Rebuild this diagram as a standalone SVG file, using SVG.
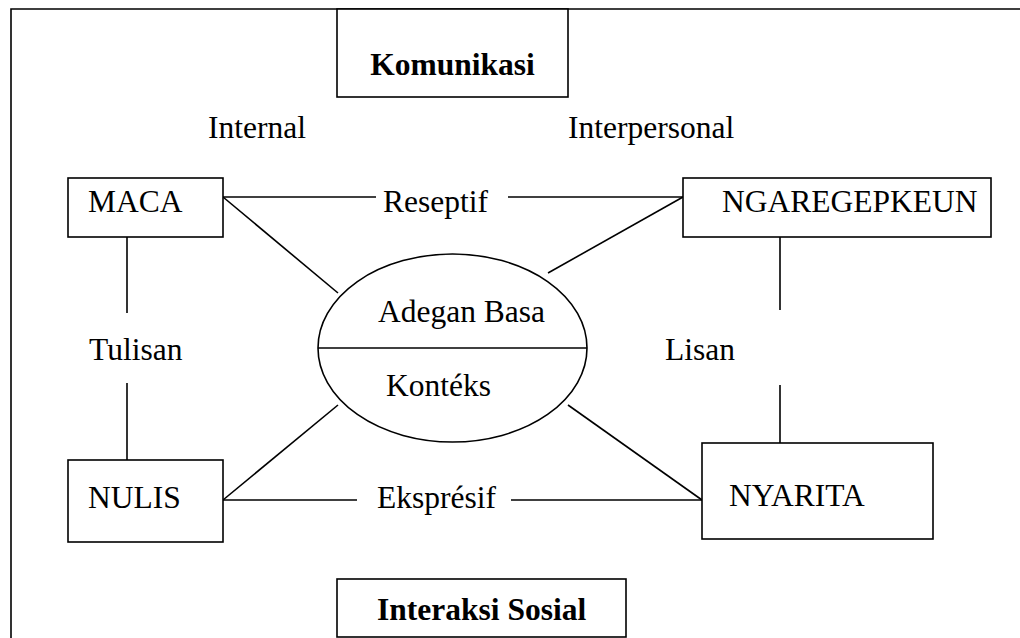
<svg xmlns="http://www.w3.org/2000/svg" width="1020" height="638" viewBox="0 0 1020 638">
<style>
.box{fill:#fff;stroke:#000;stroke-width:1.6}
.ln{stroke:#000;stroke-width:1.6;fill:none}
text{font-family:"Liberation Serif","Times New Roman",serif;font-size:31.5px;fill:#000}
.b{font-weight:bold}
</style>
<rect width="1020" height="638" fill="#fff"/>
<path class="ln" d="M11,640 V9 H1022"/>
<g id="connectors">
<line class="ln" x1="223" y1="197" x2="376" y2="197"/>
<line class="ln" x1="508" y1="197" x2="683" y2="197"/>
<line class="ln" x1="223" y1="197" x2="338" y2="293"/>
<line class="ln" x1="683" y1="197" x2="548" y2="273"/>
<line class="ln" x1="127" y1="237" x2="127" y2="313"/>
<line class="ln" x1="127" y1="383" x2="127" y2="460"/>
<line class="ln" x1="780" y1="237" x2="780" y2="310"/>
<line class="ln" x1="780" y1="385" x2="780" y2="443"/>
<line class="ln" x1="223" y1="500" x2="357" y2="500"/>
<line class="ln" x1="511" y1="500" x2="702" y2="500"/>
<line class="ln" x1="223" y1="500" x2="338" y2="405"/>
<line class="ln" x1="702" y1="500" x2="568" y2="405"/>
<text x="383" y="212">Reseptif</text>
<text x="377" y="508">Ekspr&#233;sif</text>
<text x="89" y="360">Tulisan</text>
<text x="665" y="360">Lisan</text>
</g>
<g id="komunikasi">
<rect class="box" x="337" y="9" width="231" height="88"/>
<text class="b" x="452.5" y="75" text-anchor="middle">Komunikasi</text>
</g>
<text x="208" y="138">Internal</text>
<text x="568" y="138">Interpersonal</text>
<g id="maca">
<rect class="box" x="68" y="178" width="155" height="59"/>
<text x="88" y="212">MACA</text>
</g>
<g id="ngaregepkeun">
<rect class="box" x="683" y="178" width="308" height="59"/>
<text x="722" y="212">NGAREGEPKEUN</text>
</g>
<g id="adegan">
<ellipse class="box" cx="452.5" cy="348" rx="134.5" ry="94"/>
<line class="ln" x1="318" y1="348" x2="587" y2="348"/>
<text x="378" y="322">Adegan Basa</text>
<text x="386" y="396">Kont&#233;ks</text>
</g>
<g id="nulis">
<rect class="box" x="68" y="460" width="155" height="82"/>
<text x="88" y="508">NULIS</text>
</g>
<g id="nyarita">
<rect class="box" x="702" y="443" width="231" height="96"/>
<text x="729" y="506">NYARITA</text>
</g>
<g id="interaksi">
<rect class="box" x="337" y="579" width="289" height="58"/>
<text class="b" x="377" y="620">Interaksi Sosial</text>
</g>
</svg>
